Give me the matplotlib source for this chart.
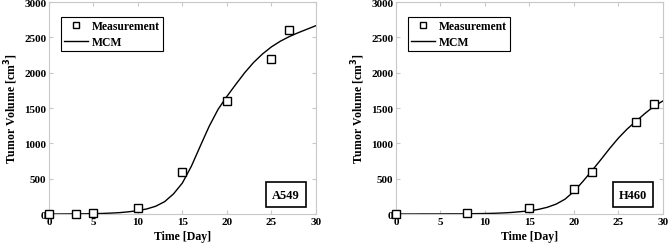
import numpy as np
import matplotlib.pyplot as plt

plt.rcParams['font.family'] = 'Liberation Serif'
plt.rcParams['font.weight'] = 'bold'

# measurements
a549_day = [0, 3, 5, 10, 15, 20, 25, 27]
a549_vol = [0, 5, 15, 80, 600, 1600, 2200, 2600]
h460_day = [0, 8, 15, 20, 22, 27, 29]
h460_vol = [0, 20, 80, 350, 600, 1300, 1550]

# MCM fit curves (one value per day)
fit_day = list(range(0, 31))
a549_fit = [0, 0, 1, 2, 3, 5, 8, 13, 20, 32, 48, 72, 110, 175, 285, 440,
            675, 960, 1240, 1480, 1665, 1835, 2000, 2145, 2265, 2365,
            2445, 2510, 2565, 2615, 2665]
h460_fit = [0, 0, 0, 1, 1, 1, 2, 2, 3, 5, 7, 10, 15, 22, 33, 45,
            65, 95, 140, 210, 320, 460, 610, 765, 925, 1075,
            1205, 1315, 1425, 1525, 1600]

panels = [
    (a549_day, a549_vol, a549_fit, 'A549'),
    (h460_day, h460_vol, h460_fit, 'H460'),
]

fig = plt.figure(figsize=(6.69, 2.51), dpi=100)
lefts = [0.0732, 0.5919]
spine_col = '#c8c8c8'

for (d, v, fv, name), left in zip(panels, lefts):
    ax = fig.add_axes([left, 0.1434, 0.399, 0.8446])
    ax.plot(d, v, 's', mfc='white', mec='black', ms=5.2, mew=1.0,
            label='Measurement', clip_on=False, zorder=3)
    ax.plot(fit_day, fv, '-', color='black', lw=1.0, label='MCM', zorder=2)
    ax.set_xlim(0, 30)
    ax.set_ylim(0, 3000)
    ax.set_xticks(range(0, 31, 5))
    ax.set_yticks(range(0, 3001, 500))
    ax.tick_params(direction='in', top=True, right=True, length=3,
                   color=spine_col, labelsize=8, pad=2)
    for s in ax.spines.values():
        s.set_color(spine_col)
        s.set_linewidth(0.8)
    ax.set_xlabel('Time [Day]', fontsize=8.5, fontweight='bold', labelpad=3)
    ax.set_ylabel('Tumor Volume [cm$^3$]', fontsize=8.5, fontweight='bold', labelpad=3)
    leg = ax.legend(loc='upper left', bbox_to_anchor=(0.044, 0.93), fontsize=8.4,
                    fancybox=False, framealpha=1, borderpad=0.3,
                    handlelength=2.0, handletextpad=0.35, labelspacing=0.3,
                    borderaxespad=0, markerscale=0.7)
    leg.get_frame().set_edgecolor('black')
    leg.get_frame().set_linewidth(0.8)
    ax.text(0.888, 0.092, name, transform=ax.transAxes, ha='center', va='center',
            fontsize=9, fontweight='bold',
            bbox=dict(boxstyle='square,pad=0.5', fc='white', ec='black', lw=1.2))

fig.savefig('out.png', dpi=100)
